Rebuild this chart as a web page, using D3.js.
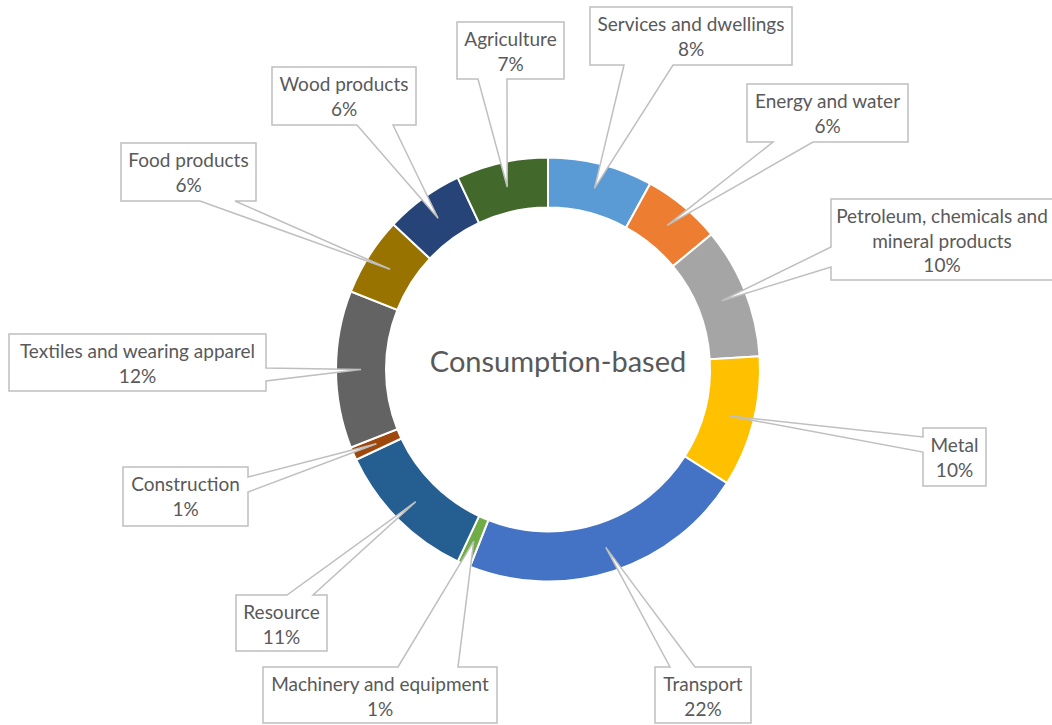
<!DOCTYPE html>
<html>
<head>
<meta charset="utf-8">
<script src="https://cdn.jsdelivr.net/npm/d3@7"></script>
<style>
  html, body { margin: 0; padding: 0; background: #ffffff; }
  svg { display: block; }
  text { font-family: Lato, "Open Sans", sans-serif; fill: #595959; }
</style>
</head>
<body>
<svg id="chart" width="1052" height="725"></svg>
<script>
// Sector shares of consumption-based footprint (percent), clockwise from 12 o'clock
const categories = [
  "Services and dwellings", "Energy and water", "Petroleum, chemicals and mineral products",
  "Metal", "Transport", "Machinery and equipment", "Resource", "Construction",
  "Textiles and wearing apparel", "Food products", "Wood products", "Agriculture"
];
const shares = [8, 6, 10, 10, 22, 1, 11, 1, 12, 6, 6, 7];
const sliceColors = [
  "#5B9BD5", "#ED7D31", "#A5A5A5", "#FFC000", "#4472C4", "#70AD47",
  "#255E91", "#9E480E", "#636363", "#997300", "#264478", "#43682B"
];
// Line breaks used inside each callout box
const labelLines = [
  ["Services and dwellings"], ["Energy and water"], ["Petroleum, chemicals and", "mineral products"],
  ["Metal"], ["Transport"], ["Machinery and equipment"], ["Resource"], ["Construction"],
  ["Textiles and wearing apparel"], ["Food products"], ["Wood products"], ["Agriculture"]
];
const centerTitle = "Consumption-based";

// Callout box layout: box rect, edge the pointer leaves from, pointer base span on that edge,
// and an optional horizontal nudge for the text block
const calloutLayout = [
  { x: 590, y: 7,   w: 202, h: 58, edge: "bottom", base: [624, 673] },
  { x: 747, y: 84,  w: 161, h: 58, edge: "bottom", base: [773, 813] },
  { x: 831, y: 199, w: 234, h: 81, edge: "left",   base: [247, 267], dx: -6 },
  { x: 923, y: 428, w: 63,  h: 58, edge: "left",   base: [437, 452] },
  { x: 655, y: 667, w: 96,  h: 56, edge: "top",    base: [670, 695] },
  { x: 263, y: 667, w: 234, h: 56, edge: "top",    base: [398, 458] },
  { x: 236, y: 595, w: 91,  h: 56, edge: "top",    base: [287, 313] },
  { x: 123, y: 467, w: 125, h: 59, edge: "right",  base: [477, 492] },
  { x: 9,   y: 334, w: 257, h: 57, edge: "right",  base: [368, 381] },
  { x: 121, y: 143, w: 135, h: 58, edge: "bottom", base: [200, 235] },
  { x: 272, y: 67,  w: 144, h: 58, edge: "bottom", base: [357, 393] },
  { x: 457, y: 22,  w: 107, h: 57, edge: "bottom", base: [478, 507] }
];

const data = categories.map((name, i) => ({ name, value: shares[i], color: sliceColors[i], lines: labelLines[i], box: calloutLayout[i] }));

const svg = d3.select("#chart");
const cx = 548, cy = 369.5;
const outerR = 212, innerR = 162;

const pie = d3.pie().value(d => d.value).sort(null);
const arc = d3.arc().innerRadius(innerR).outerRadius(outerR);
const arcs = pie(data);

const ring = svg.append("g").attr("transform", `translate(${cx},${cy})`);
ring.selectAll("path.slice")
  .data(arcs)
  .join("path")
  .attr("class", "slice")
  .attr("d", arc)
  .attr("fill", d => d.data.color)
  .attr("stroke", "#ffffff")
  .attr("stroke-width", 2);

// Centre title
svg.append("text")
  .attr("x", 558)
  .attr("y", 372)
  .attr("text-anchor", "middle")
  .style("font-size", "29px")
  .text(centerTitle);

// Wedge callout outline: rectangle with a pointer to the slice centroid
function calloutPath(b, tip) {
  const [tx, ty] = tip;
  const x0 = b.x, y0 = b.y, x1 = b.x + b.w, y1 = b.y + b.h;
  const [a, c] = b.base;
  switch (b.edge) {
    case "bottom":
      return `M${x0},${y0}H${x1}V${y1}H${c}L${tx},${ty}L${a},${y1}H${x0}Z`;
    case "top":
      return `M${x0},${y0}H${a}L${tx},${ty}L${c},${y0}H${x1}V${y1}H${x0}Z`;
    case "left":
      return `M${x0},${y0}H${x1}V${y1}H${x0}V${c}L${tx},${ty}L${x0},${a}Z`;
    case "right":
      return `M${x0},${y0}H${x1}V${a}L${tx},${ty}L${x1},${c}V${y1}H${x0}Z`;
  }
}

const callouts = svg.append("g").selectAll("g.callout")
  .data(arcs)
  .join("g")
  .attr("class", "callout");

callouts.append("path")
  .attr("d", d => {
    const [mx, my] = arc.centroid(d);
    return calloutPath(d.data.box, [cx + mx, cy + my]);
  })
  .attr("fill", "#ffffff")
  .attr("stroke", "#bfbfbf")
  .attr("stroke-width", 1.5)
  .attr("stroke-linejoin", "miter");

callouts.each(function(d) {
  const b = d.data.box;
  const lines = d.data.lines.concat([d3.format(".0%")(d.data.value / 100)]);
  const t = d3.select(this).append("text")
    .attr("text-anchor", "middle")
    .style("font-size", "19px");
  lines.forEach((ln, k) => {
    t.append("tspan")
      .attr("x", b.x + b.w / 2 + (b.dx || 0))
      .attr("y", b.y + 24 + k * 24.5)
      .text(ln);
  });
});
</script>
</body>
</html>
